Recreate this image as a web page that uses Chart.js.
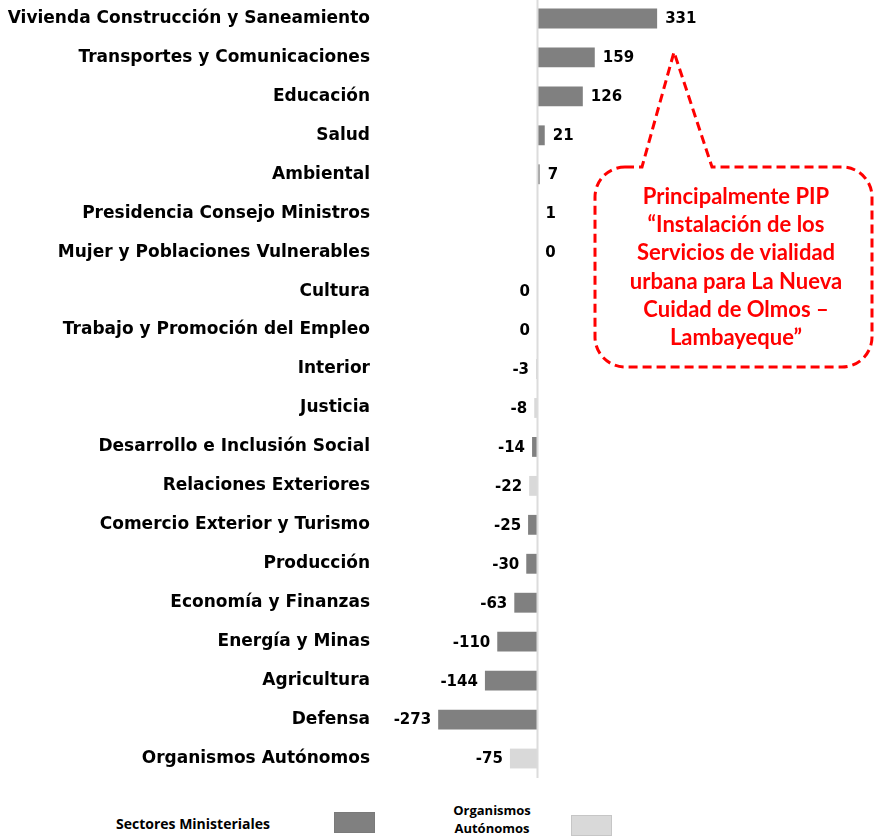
<!DOCTYPE html>
<html>
<head>
<meta charset="utf-8">
<script src="https://cdn.jsdelivr.net/npm/chart.js@4.4.1/dist/chart.umd.min.js"></script>
<style>
  html, body { margin: 0; padding: 0; background: #ffffff; }
  #page { position: relative; width: 875px; height: 837px; overflow: hidden; background: #fff; }
  #wrap { position: absolute; left: 0; top: -1px; width: 875px; height: 779px; }
  .lg { position: absolute; font-family: "Open Sans", Lato, sans-serif; font-weight: bold; color: #000; }
  .sw { position: absolute; box-sizing: border-box; }
</style>
</head>
<body>
<div id="page">
  <div id="wrap"><canvas id="c"></canvas></div>
  <div class="lg" id="lg1" style="left:116px; top:814px; font-size:14px; line-height:20px;">Sectores Ministeriales</div>
  <div class="sw" style="left:334px; top:812px; width:41px; height:21px; background:#808080; border:1px solid #7a7a7a;"></div>
  <div class="lg" id="lg2" style="left:440px; top:801px; width:104px; text-align:center; font-size:13px; line-height:18px;">Organismos<br>Autónomos</div>
  <div class="sw" style="left:571px; top:815px; width:41px; height:21px; background:#d9d9d9; border:1px solid #c6c6c6;"></div>
</div>
<script>
const categories = [
  "Vivienda Construcción y Saneamiento",
  "Transportes y Comunicaciones",
  "Educación",
  "Salud",
  "Ambiental",
  "Presidencia Consejo Ministros",
  "Mujer y Poblaciones Vulnerables",
  "Cultura",
  "Trabajo y Promoción del Empleo",
  "Interior",
  "Justicia",
  "Desarrollo e Inclusión Social",
  "Relaciones Exteriores",
  "Comercio Exterior y Turismo",
  "Producción",
  "Economía y Finanzas",
  "Energía y Minas",
  "Agricultura",
  "Defensa",
  "Organismos Autónomos"
];
const values = [331, 159, 126, 21, 7, 1, 0.4, -0.4, -0.3, -3, -8, -14, -22, -25, -30, -63, -110, -144, -273, -75];
const shade = ["dark","dark","dark","dark","dark","dark","light","dark","light","light","light","dark","light","dark","dark","dark","dark","dark","dark","light"];
const legendNames = ["Sectores Ministeriales", "Organismos Autónomos"];
const shadeColors = { dark: "#808080", light: "#d9d9d9" };

const calloutLines = [
  "Principalmente PIP",
  "“Instalación de los",
  "Servicios de vialidad",
  "urbana para La Nueva",
  "Cuidad de Olmos –",
  "Lambayeque”"
];

const decor = {
  id: "decor",
  afterDatasetsDraw(chart) {
    const ctx = chart.ctx;
    const xs = chart.scales.x;
    const area = chart.chartArea;
    // zero line
    const x0 = Math.round(xs.getPixelForValue(0)) + 0.5;
    ctx.save();
    ctx.strokeStyle = "#dcdcdc";
    ctx.lineWidth = 2;
    ctx.beginPath();
    ctx.moveTo(x0, area.top);
    ctx.lineTo(x0, area.bottom);
    ctx.stroke();
    // value labels
    const meta = chart.getDatasetMeta(0);
    ctx.font = "bold 15px 'DejaVu Sans'";
    ctx.fillStyle = "#000";
    ctx.textBaseline = "middle";
    meta.data.forEach((el, i) => {
      const v = values[i];
      const txt = String(Math.round(v) + 0);
      if (v >= 0) {
        ctx.textAlign = "left";
        ctx.fillText(txt, Math.max(el.x, el.base) + 8, el.y + 1);
      } else {
        ctx.textAlign = "right";
        ctx.fillText(txt, Math.min(el.x, el.base) - 7, el.y + 1);
      }
    });
    ctx.restore();

    // callout (page coordinates, offset by wrapper top of -1px)
    const off = 1;
    const L = 595, R = 872, T = 167 + off, B = 367 + off, r = 30;
    const tipX = 674, tipY = 52 + off, baseL = 642, baseR = 712;
    ctx.save();
    ctx.strokeStyle = "#ff0000";
    ctx.lineWidth = 3;
    ctx.setLineDash([9, 5]);
    ctx.beginPath();
    ctx.moveTo(L + r, T);
    ctx.lineTo(baseL, T);
    ctx.lineTo(tipX, tipY);
    ctx.lineTo(baseR, T);
    ctx.lineTo(R - r, T);
    ctx.arcTo(R, T, R, T + r, r);
    ctx.lineTo(R, B - r);
    ctx.arcTo(R, B, R - r, B, r);
    ctx.lineTo(L + r, B);
    ctx.arcTo(L, B, L, B - r, r);
    ctx.lineTo(L, T + r);
    ctx.arcTo(L, T, L + r, T, r);
    ctx.closePath();
    ctx.stroke();
    ctx.setLineDash([]);
    ctx.fillStyle = "#ff0000";
    ctx.font = "bold 22px Lato";
    ctx.textAlign = "center";
    ctx.textBaseline = "middle";
    calloutLines.forEach((t, i) => {
      ctx.fillText(t, 736, 197 + off + i * 28.2);
    });
    ctx.restore();
  }
};

new Chart(document.getElementById("c"), {
  type: "bar",
  data: {
    labels: categories,
    datasets: [{
      label: legendNames[0],
      data: values,
      backgroundColor: shade.map(s => shadeColors[s]),
      borderWidth: 0,
      categoryPercentage: 1,
      barPercentage: 0.51
    }]
  },
  options: {
    indexAxis: "y",
    responsive: true,
    maintainAspectRatio: false,
    animation: false,
    layout: { padding: 0 },
    plugins: { legend: { display: false }, tooltip: { enabled: false } },
    scales: {
      x: { display: false, min: -450, max: 932 },
      y: {
        grid: { display: false, drawTicks: false },
        border: { display: false },
        ticks: {
          padding: 4,
          color: "#000",
          font: { family: "'DejaVu Sans'", weight: "bold", size: 17 },
          autoSkip: false
        },
        afterFit(scale) {
          scale.width = 374;
          scale.paddingTop = 0;
          scale.paddingBottom = 0;
        }
      }
    }
  },
  plugins: [decor]
});
</script>
</body>
</html>
